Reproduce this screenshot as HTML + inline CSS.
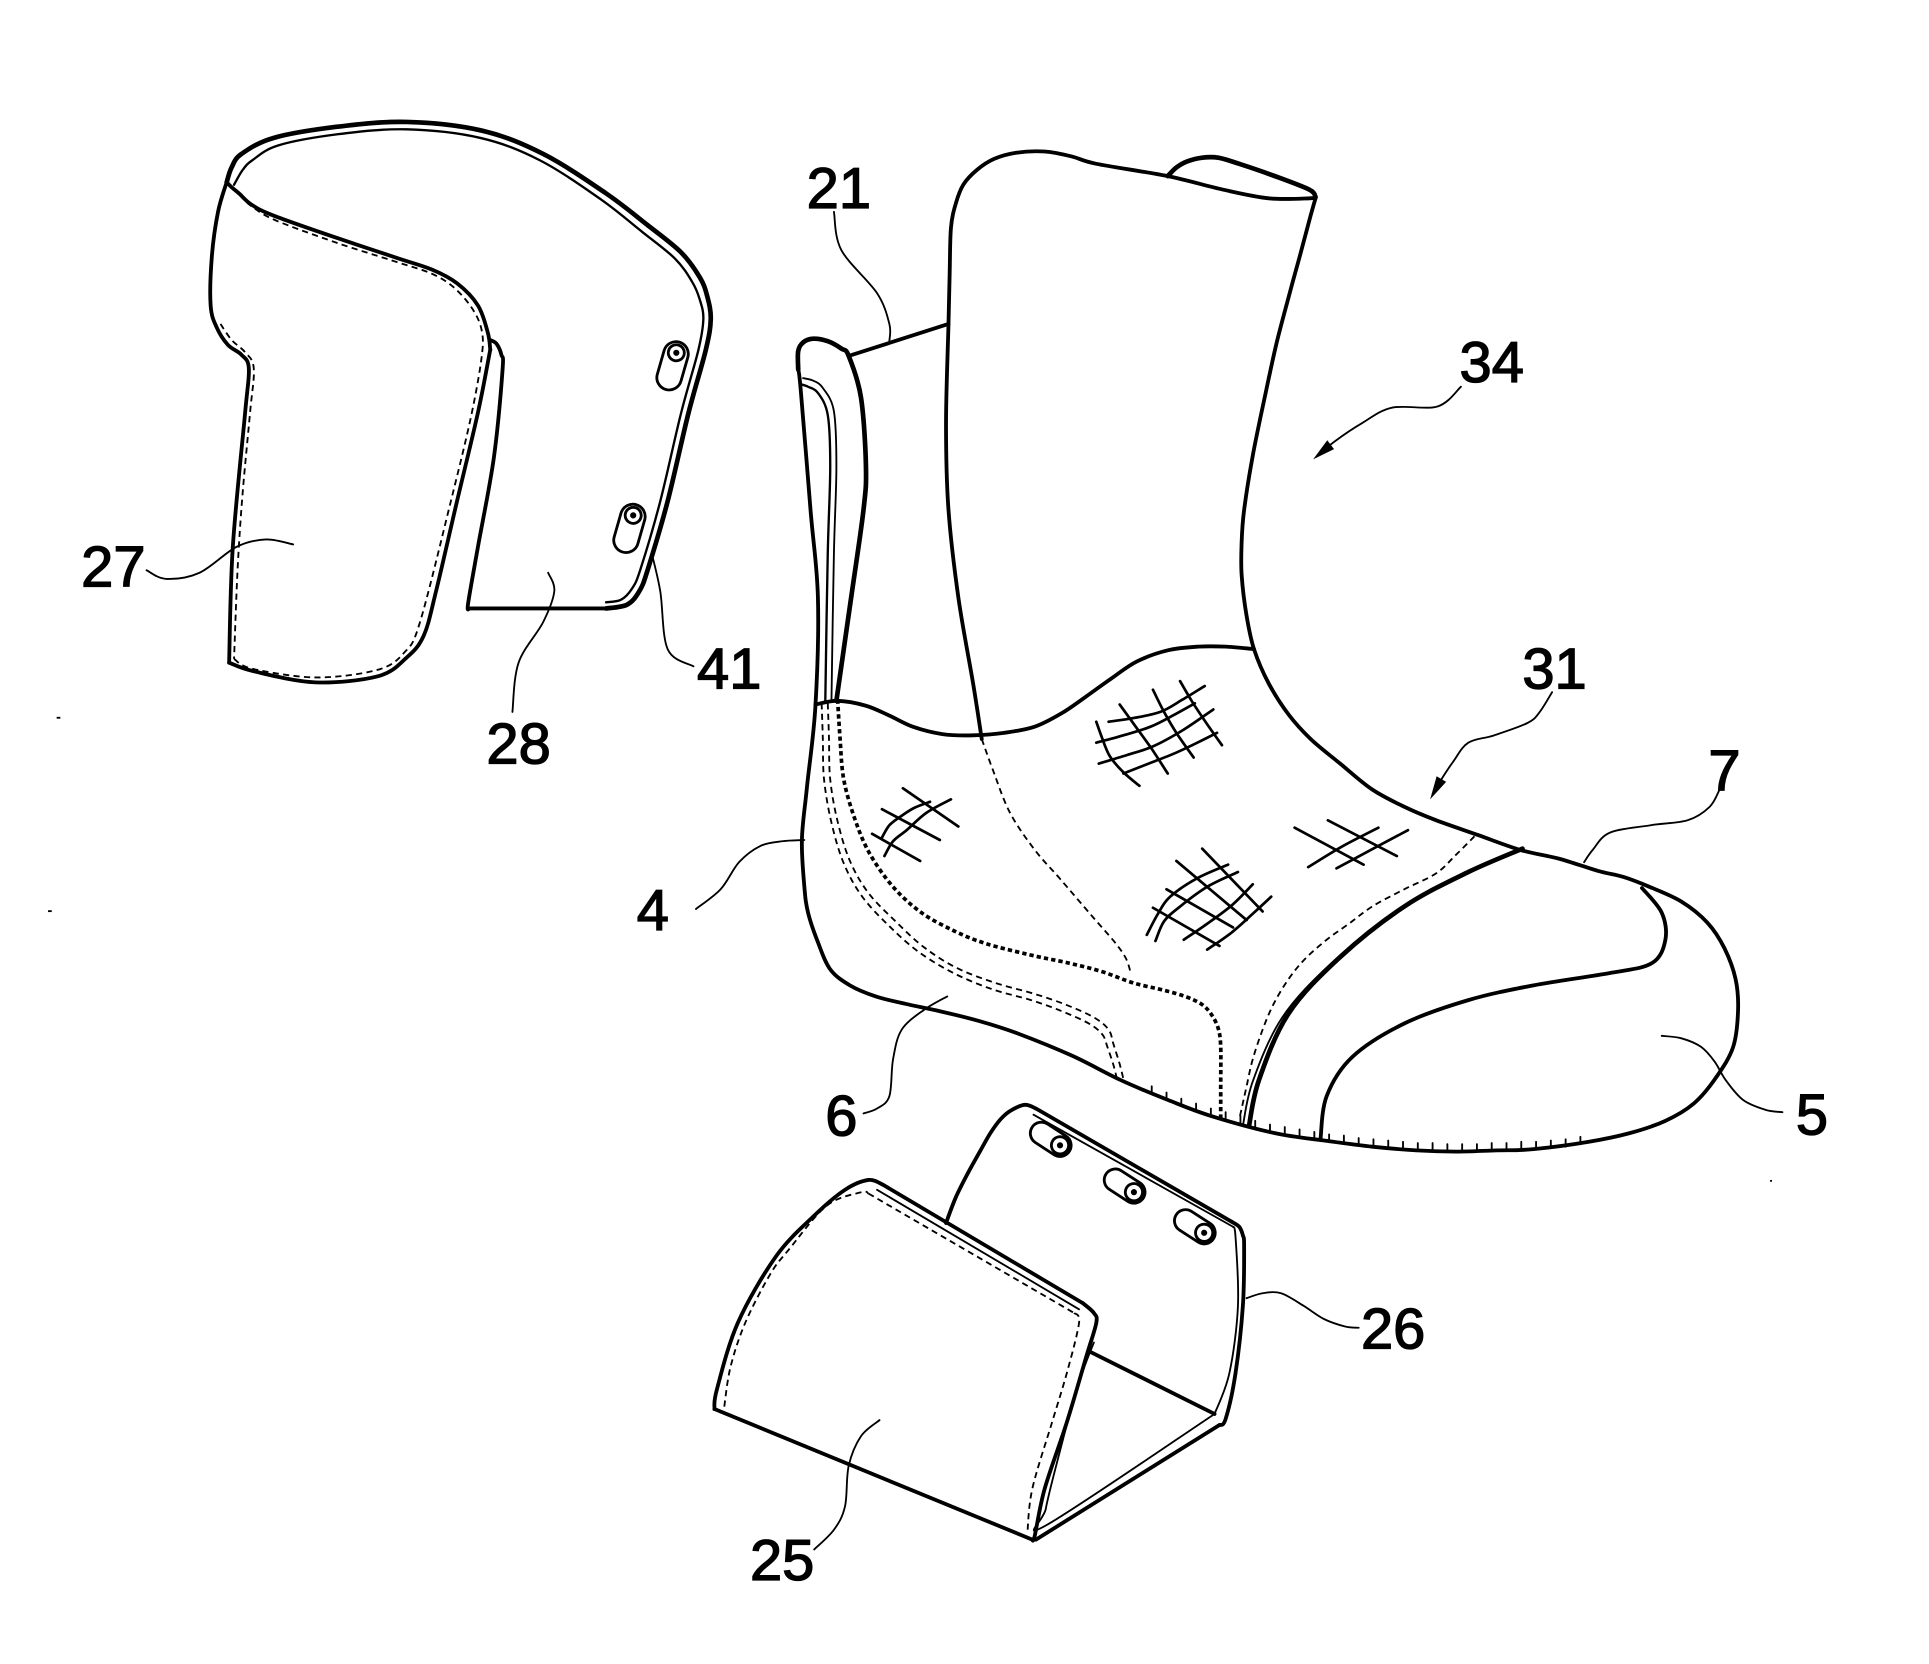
<!DOCTYPE html>
<html><head><meta charset="utf-8">
<style>
html,body{margin:0;padding:0;background:#fff;}
svg{display:block;}
.k{fill:none;stroke:#000;stroke-width:3.1;stroke-linejoin:round;stroke-linecap:round;}
.w{fill:none;stroke:#000;stroke-width:3.8;stroke-linejoin:round;stroke-linecap:round;}
.t{fill:none;stroke:#000;stroke-width:1.5;stroke-linejoin:round;stroke-linecap:round;}
.n{fill:none;stroke:#000;stroke-width:1.9;stroke-linejoin:round;stroke-linecap:round;}
.d{fill:none;stroke:#000;stroke-width:1.5;stroke-dasharray:5 3.5;}
.b{fill:none;stroke:#000;stroke-width:3;stroke-dasharray:3.5 2.5;}
.m{fill:none;stroke:#000;stroke-width:2.2;stroke-linecap:round;}
.pin{fill:#fff;stroke:#000;stroke-width:2.3;}
text{font-family:"Liberation Sans",Arial,sans-serif;font-size:47px;fill:#000;stroke:#000;stroke-width:1.1;text-anchor:middle;}
</style></head>
<body>
<svg width="1929" height="1664" viewBox="0 0 1566 1351" preserveAspectRatio="none">
<rect x="0" y="0" width="1566" height="1351" fill="#fff"/>

<!-- ===== Top-left piece 27 / 28 ===== -->
<polyline class="s w" points="184,148 188,136 196,125 222,112 273,103 330,99 391,106 441,125 492,157 526,183 553,205 568,225 574,240 577,259 573,284 559,335 542,407 526,462 519,480 509,491 492,494"/>
<polyline class="s n" points="190,150 197,138 205,130 226,118 274,109 330,105 390,112 438,130 488,162 521,188 548,210 562,229 568,243 571,259 567,284 553,335 536,407 520,462 513,478 504,487 492,489"/>
<polyline class="k" points="492,494 381,494"/>
<polyline class="s k" points="398,276 403,279 407,288 408,300 401,371 388,444 380,490 381,494"/>
<polyline class="s k" points="184,148 188,152 194,157 204,166 222,175 273,193 324,210 351,219 371,230 388,248 396,270 398,284"/>
<polyline class="s k" points="398,284 388,335 371,407 354,480 344,516 330,534 307,549 256,554 206,545 186,538"/>
<polyline class="s k" points="186,538 189,444 199,335 202,299 196,288 185,280 176,266 171,248 172,208 177,172 184,148"/>
<polyline class="s d" points="179,263 188,276 199,286 206,299 203,335 197,400 193,460 190,535"/>
<polyline class="s d" points="190,535 205,543 256,550 306,544 328,530 341,505 366,407 382,340 391,290 391,268 383,250 368,233 350,222 323,213 273,197 224,179 205,168 196,160"/>
<!-- pins on 28 -->
<g transform="translate(546,297) rotate(16)"><rect class="pin" x="-10" y="-20" width="20" height="40" rx="10"/><circle class="pin" cx="0" cy="-11" r="6.5"/><circle cx="0" cy="-11" r="2.5" fill="#000"/></g>
<g transform="translate(511,429) rotate(16)"><rect class="pin" x="-10" y="-20" width="20" height="40" rx="10"/><circle class="pin" cx="0" cy="-11" r="6.5"/><circle cx="0" cy="-11" r="2.5" fill="#000"/></g>
<!-- leaders -->
<polyline class="s t" points="238,442 216,438 192,444 162,465 135,470 119,463"/>
<polyline class="s t" points="445,465 450,480 441,505 421,538 416,578"/>
<polyline class="s t" points="529,449 536,480 542,527 563,541"/>
<text x="92" y="476">27</text>
<text x="421" y="620">28</text>
<text x="592" y="559">41</text>

<!-- ===== Boot ===== -->
<polyline class="s k" points="648,300 650,316 658,414 664,485 662,573 655,640 651,682 653,720 656,741 664,765 674,787 690,800 711,809 735,815 763,821 795,829 826,839 870,857 910,877 948,893 983,906 1035,920 1075,926 1114,931 1150,934 1182,935 1215,934 1245,933 1290,927 1323,920 1352,910 1375,896 1393,875 1407,850 1411,820 1409,795 1400,770 1386,749 1365,732 1339,720 1318,712 1297,707 1265,697 1234,690 1200,678 1166,666 1140,655 1114,641 1088,620 1064,600 1046,580 1030,555 1018,527 1012,500 1008,467 1008,440 1010,414 1017,370 1026,326 1036,280 1047,238 1056,205 1064,175 1068,161"/>
<polyline class="s w" points="648,300 648,285 652,278 660,275 672,277 683,283 689,289 699,323 703,379 701,414 691,485 679,569"/>
<polyline class="s n" points="650,312 656,314 664,319 672,337 674,379 672,449 670,569"/>
<polyline class="s t" points="652,307 660,309 668,315 677,334 679,379 677,449 675,569"/>
<polyline class="k" points="689,289 770,263"/>
<polyline class="s t" points="677,172 683,203 712,238 722,263 722,277"/>
<text x="681" y="169">21</text>
<polyline class="s k" points="797,600 790,555 778,485 770,414 768,344 770,263 771,220 772,185 776,165 782,150 793,138 807,129 825,124 848,123 870,127 890,133 948,143 993,154 1030,161 1063,161 1068,160"/>
<polyline class="s w" points="948,143 955,136 964,131 976,128 989,128 1006,133 1035,143 1063,154 1068,160"/>
<polyline class="s k" points="662,572 680,569 703,573 722,581 741,590 765,596 790,597 815,595 840,590 862,579 881,566 902,551 923,537 948,528 973,525 995,525 1018,527"/>
<polyline class="s d" points="797,600 806,625 820,660 840,690 861,714 885,742 905,765 914,778 918,790"/>
<polyline class="s b" points="680,568 682,600 685,633 694,665 706,693 725,720 748,741 775,756 800,766 835,775 868,782 895,789 920,798 945,804 962,809 975,815 983,823 989,835 991,850 991,880 991,909"/>
<polyline class="s d" points="667,571 668,600 669,633 675,668 685,701 700,728 722,752 746,773 774,790 805,803 837,812 862,821 884,831 895,840 899,850 904,865 907,877"/>
<polyline class="s d" points="672,571 673,600 674,633 680,667 690,699 705,725 727,748 750,769 777,786 808,798 840,807 866,816 888,826 900,836 904,848 909,864 912,876"/>
<polyline class="s d" points="1197,679 1182,694 1166,709 1140,722 1114,736 1095,750 1077,763 1060,778 1046,795 1034,815 1025,836 1017,860 1012,882 1008,900 1006,909"/>
<polyline class="s w" points="1236,689 1192,708 1140,736 1088,777 1046,823 1022,877 1014,914"/>
<polyline class="s t" points="1226,692 1185,711 1134,740 1082,781 1041,826 1017,878 1009,914"/>
<polyline class="s k" points="1333,721 1349,741 1352,763 1341,782 1307,790 1245,800 1192,812 1140,831 1098,858 1077,890 1072,925"/>
<path class="t" d="M935,888v-6 M947,893v-6 M959,898v-6 M971,902v-6 M983,906v-6 M995,909v-6 M1007,912v-6 M1019,916v-6 M1031,919v-6 M1043,921v-6 M1055,923v-6 M1067,925v-6 M1079,927v-6 M1091,928v-6 M1103,930v-6 M1115,931v-6 M1127,932v-6 M1139,933v-6 M1151,934v-6 M1163,934v-6 M1175,935v-6 M1187,935v-6 M1199,935v-6 M1211,934v-6 M1223,934v-6 M1235,933v-6 M1247,933v-6 M1259,932v-6 M1271,931v-6 M1283,929v-6"/>

<!-- mesh patch 1 -->
<polyline class="s m" points="900,586 920,583 942,578 960,568 978,557"/>
<polyline class="s m" points="890,603 912,597 934,590 952,581 970,571"/>
<polyline class="s m" points="892,620 915,613 936,606 960,593 985,576"/>
<polyline class="s m" points="912,628 935,619 955,611 972,603 988,595"/>
<polyline class="s m" points="890,586 895,600 901,614 912,627 925,638"/>
<polyline class="s m" points="909,572 922,590 935,608 948,628"/>
<polyline class="s m" points="936,560 945,578 955,595 969,615"/>
<polyline class="s m" points="958,553 968,570 980,588 992,605"/>
<!-- mesh patch 2 -->
<polyline class="m" points="733,640 778,671"/>
<polyline class="m" points="716,657 763,682"/>
<polyline class="m" points="708,677 747,699"/>
<polyline class="s m" points="716,680 722,670 731,663 742,656 755,651"/>
<polyline class="s m" points="718,695 725,683 736,674 752,660 772,649"/>
<!-- mesh patch 3 -->
<polyline class="m" points="976,689 1025,740"/>
<polyline class="m" points="955,699 1012,747"/>
<polyline class="m" points="947,722 1001,753"/>
<polyline class="m" points="936,737 990,768"/>
<polyline class="s m" points="931,759 940,742 950,728 972,713 997,702"/>
<polyline class="s m" points="938,764 945,748 958,736 980,720 1005,708"/>
<polyline class="s m" points="961,763 980,750 1000,735 1017,718"/>
<polyline class="s m" points="980,771 1000,757 1018,741 1032,728"/>
<!-- mesh patch 4 -->
<polyline class="m" points="1051,672 1107,702"/>
<polyline class="m" points="1078,666 1134,695"/>
<polyline class="s m" points="1062,704 1090,687 1119,672"/>
<polyline class="s m" points="1085,705 1113,690 1143,674"/>

<!-- boot leaders/arrows -->
<polyline class="s t" points="1186,314 1167,330 1130,331 1105,344 1084,358 1072,368"/>
<polygon points="1066,373 1083,364.6 1077.5,357.4" fill="#000"/>
<text x="1211" y="310">34</text>
<polyline class="s t" points="1260,562 1250,578 1240,587 1213,597 1192,603 1180,618 1170,633 1165,642"/>
<polygon points="1161,649 1174,634.8 1166.3,630.2" fill="#000"/>
<text x="1262" y="559">31</text>
<polyline class="s t" points="1396,641 1388,655 1370,666 1340,670 1307,676 1293,690 1286,700"/>
<text x="1400" y="642">7</text>
<polyline class="s t" points="653,682 635,683 617,687 600,700 585,722 565,738"/>
<text x="530" y="755">4</text>
<polyline class="s t" points="769,809 750,820 732,836 725,860 722,890 712,900 701,904"/>
<text x="683" y="922">6</text>
<polyline class="s t" points="1349,841 1365,843 1381,850 1392,862 1401,877 1415,893 1433,901 1447,903"/>
<text x="1471" y="921">5</text>

<!-- ===== Piece 25 / 26 ===== -->
<polyline class="s k" points="768,993 776,972 786,952 796,934 804,920 812,909 820,902 832,897 841,900"/>
<polyline class="k" points="841,900 1000,992"/>
<polyline class="t" points="839,905 1001,996"/>
<polyline class="s k" points="1000,992 1006,996 1009,1003 1010,1012 1009,1060 1003,1115 995,1152 990,1157"/>
<polyline class="s t" points="1001,996 1003,1004 1005,1060 998,1115 986,1148"/>
<polyline class="k" points="990,1157 841,1250"/>
<polyline class="s t" points="986,1148 850,1238 849,1225 860,1180 875,1125 888,1090"/>
<polyline class="k" points="884,1097 986,1148"/>
<g transform="translate(853,925) rotate(33)"><rect class="pin" x="-18" y="-9" width="36" height="18" rx="9"/><circle class="pin" cx="9" cy="0" r="7"/><circle cx="9" cy="0" r="2.5" fill="#000"/></g>
<g transform="translate(913,963) rotate(33)"><rect class="pin" x="-18" y="-9" width="36" height="18" rx="9"/><circle class="pin" cx="9" cy="0" r="7"/><circle cx="9" cy="0" r="2.5" fill="#000"/></g>
<g transform="translate(970,996) rotate(33)"><rect class="pin" x="-18" y="-9" width="36" height="18" rx="9"/><circle class="pin" cx="9" cy="0" r="7"/><circle cx="9" cy="0" r="2.5" fill="#000"/></g>
<polyline class="s k" points="580,1144 582,1128 599,1074 630,1020 661,987 686,966 705,958 717,962"/>
<polyline class="k" points="717,962 879,1058"/>
<polyline class="t" points="712,966 876,1063"/>
<polyline class="s k" points="879,1058 888,1066 890,1074 882,1101 866,1155 848,1209 840,1247 838,1250"/>
<polyline class="k" points="838,1250 580,1144"/>
<polyline class="s d" points="588,1142 593,1110 605,1074 625,1035 640,1015 671,979 699,968 705,969"/>
<polyline class="d" points="705,969 872,1066"/>
<polyline class="s d" points="872,1066 876,1074 866,1115 854,1155 838,1209 834,1245"/>
<polyline class="s t" points="1012,1054 1025,1050 1040,1050 1058,1060 1075,1071 1092,1077 1103,1078"/>
<text x="1131" y="1095">26</text>
<polyline class="s t" points="714,1153 699,1166 689,1190 686,1223 677,1242 661,1258"/>
<text x="635" y="1283">25</text>

<rect x="46" y="582" width="3" height="1.5" fill="#000"/>
<rect x="39" y="739" width="3" height="1.5" fill="#000"/>
<rect x="1437" y="958" width="1.5" height="1.5" fill="#000"/>
</svg>
<script>
(function(){
  var pls=document.querySelectorAll('polyline.s');
  for(var q=0;q<pls.length;q++){
    var pl=pls[q];
    var nums=pl.getAttribute('points').trim().split(/[\s,]+/).map(Number);
    var p=[];for(var i=0;i+1<nums.length;i+=2)p.push([nums[i],nums[i+1]]);
    if(p.length<3)continue;
    var d='M'+p[0][0]+' '+p[0][1];
    for(var j=0;j<p.length-1;j++){
      var p0=p[j>0?j-1:j],p1=p[j],p2=p[j+1],p3=p[j+2<p.length?j+2:j+1];
      var c1x=p1[0]+(p2[0]-p0[0])/6,c1y=p1[1]+(p2[1]-p0[1])/6;
      var c2x=p2[0]-(p3[0]-p1[0])/6,c2y=p2[1]-(p3[1]-p1[1])/6;
      d+=' C'+c1x.toFixed(1)+' '+c1y.toFixed(1)+' '+c2x.toFixed(1)+' '+c2y.toFixed(1)+' '+p2[0]+' '+p2[1];
    }
    var path=document.createElementNS(pl.namespaceURI,'path');
    path.setAttribute('d',d);
    path.setAttribute('class',pl.getAttribute('class'));
    pl.parentNode.replaceChild(path,pl);
  }
})();
</script>
</body></html>
